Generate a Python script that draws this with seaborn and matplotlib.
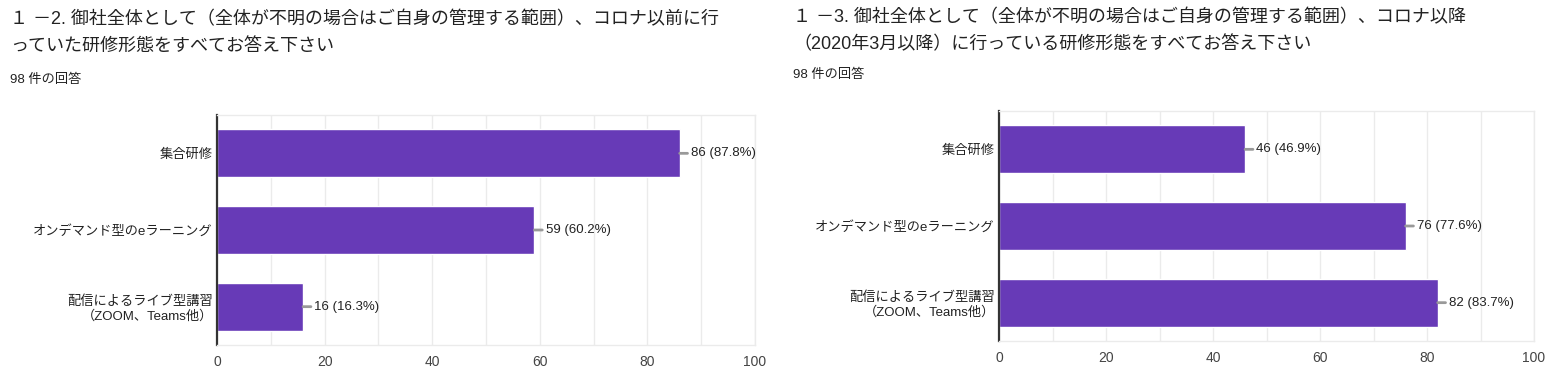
import numpy as np
import pandas as pd
import matplotlib
matplotlib.use('Agg')
import matplotlib.pyplot as plt
import seaborn as sns
from matplotlib.ticker import MultipleLocator

sns.set_style('white')
plt.rcParams['font.family'] = ['Liberation Sans', 'Noto Sans CJK JP', 'DejaVu Sans']

# data
categories = ['集合研修', 'オンデマンド型のeラーニング', '配信によるライブ型講習\n（ZOOM、Teams他）']
before_counts = [86, 59, 16]
before_pcts = [87.8, 60.2, 16.3]
after_counts = [46, 76, 82]
after_pcts = [46.9, 77.6, 83.7]
n_responses = 98

title_left = ['１ －2. 御社全体として（全体が不明の場合はご自身の管理する範囲）、コロナ以前に行',
              'っていた研修形態をすべてお答え下さい']
title_right = ['１ －3. 御社全体として（全体が不明の場合はご自身の管理する範囲）、コロナ以降',
               '（2020年3月以降）に行っている研修形態をすべてお答え下さい']

bar_color = '#673ab7'
grid_color = '#ebebeb'
text_color = '#222222'

fig = plt.figure(figsize=(15.66, 3.81), dpi=100)
W, H = 1566, 381


def draw_panel(rect, counts, pcts):
    ax = fig.add_axes(rect)
    df = pd.DataFrame({'cat': categories, 'count': counts})
    sns.barplot(data=df, y='cat', x='count', orient='h', color=bar_color,
                width=0.63, saturation=1, ax=ax)
    ax.set_xlim(0, 100)
    ax.set_ylim(2.5, -0.5)
    ax.xaxis.set_major_locator(MultipleLocator(20))
    ax.xaxis.set_minor_locator(MultipleLocator(10))
    ax.grid(True, axis='x', which='both', color=grid_color, lw=1)
    ax.set_axisbelow(True)
    ax.set_xlabel('')
    ax.set_ylabel('')
    for s in ['top', 'bottom', 'right']:
        ax.spines[s].set_color(grid_color)
        ax.spines[s].set_linewidth(1)
    ax.spines['left'].set_color('#333333')
    ax.spines['left'].set_linewidth(1.6)
    ax.tick_params(axis='both', length=0, colors=text_color, labelsize=9.5)
    ax.tick_params(axis='x', pad=7, colors='#444444', labelsize=10)
    ax.tick_params(axis='y', pad=3)
    for lab in ax.get_yticklabels():
        lab.set_multialignment('right')
    for i, (c, p) in enumerate(zip(counts, pcts)):
        ax.annotate(f'{c} ({p}%)', xy=(c, i), xytext=(8, 0), textcoords='offset points',
                    va='center', ha='left', fontsize=9.5, color=text_color,
                    arrowprops=dict(arrowstyle='-', color='#999999', lw=2,
                                    shrinkA=0, shrinkB=0))
    return ax


draw_panel([217 / W, 1 - 345 / H, 538 / W, 230 / H], before_counts, before_pcts)
draw_panel([999 / W, 1 - 341 / H, 535 / W, 230 / H], after_counts, after_pcts)

# titles
fig.text(10 / W, 1 - 20 / H, title_left[0], fontsize=13, color=text_color, va='center')
fig.text(10 / W, 1 - 46 / H, title_left[1], fontsize=13, color=text_color, va='center')
fig.text(10 / W, 1 - 80 / H, f'{n_responses} 件の回答', fontsize=9.5, color=text_color, va='center')

fig.text(793 / W, 1 - 18 / H, title_right[0], fontsize=13, color=text_color, va='center')
fig.text(793 / W, 1 - 44 / H, title_right[1], fontsize=13, color=text_color, va='center')
fig.text(793 / W, 1 - 75 / H, f'{n_responses} 件の回答', fontsize=9.5, color=text_color, va='center')

fig.savefig('out.png', dpi=100, facecolor='white')
